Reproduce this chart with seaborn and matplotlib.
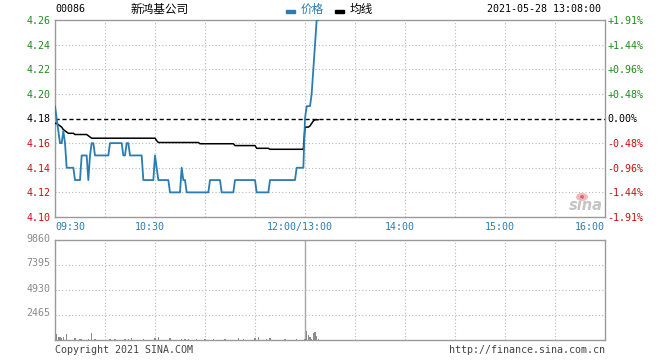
import matplotlib
matplotlib.use("Agg")
import matplotlib.pyplot as plt
import matplotlib.transforms as mtrans
from matplotlib.patches import Rectangle, Ellipse
import pandas as pd
import seaborn as sns

# ---------------- data ----------------
price = [
    4.19, 4.18, 4.17, 4.16, 4.16, 4.17, 4.16,
    4.14, 4.14, 4.14, 4.14, 4.14,
    4.13, 4.13, 4.13, 4.13,
    4.15, 4.15, 4.15, 4.15,
    4.13, 4.15, 4.16, 4.16,
    4.15, 4.15, 4.15, 4.15, 4.15, 4.15, 4.15, 4.15, 4.15,
    4.16, 4.16, 4.16, 4.16, 4.16, 4.16, 4.16, 4.16,
    4.15, 4.15, 4.16, 4.16,
    4.15, 4.15, 4.15, 4.15, 4.15, 4.15, 4.15, 4.15,
    4.13, 4.13, 4.13, 4.13, 4.13, 4.13, 4.13,
    4.15, 4.14,
    4.13, 4.13, 4.13, 4.13, 4.13, 4.13, 4.13,
    4.12, 4.12, 4.12, 4.12, 4.12, 4.12, 4.12,
    4.14, 4.13, 4.13,
    4.12, 4.12, 4.12, 4.12, 4.12, 4.12, 4.12, 4.12, 4.12, 4.12, 4.12, 4.12, 4.12, 4.12,
    4.13, 4.13, 4.13, 4.13, 4.13, 4.13, 4.13,
    4.12, 4.12, 4.12, 4.12, 4.12, 4.12, 4.12, 4.12,
    4.13, 4.13, 4.13, 4.13, 4.13, 4.13, 4.13, 4.13, 4.13, 4.13, 4.13, 4.13, 4.13,
    4.12, 4.12, 4.12, 4.12, 4.12, 4.12, 4.12, 4.12,
    4.13, 4.13, 4.13, 4.13, 4.13, 4.13, 4.13, 4.13, 4.13, 4.13, 4.13, 4.13, 4.13, 4.13, 4.13, 4.13,
    4.14, 4.14, 4.14, 4.14, 4.14,
    4.18, 4.19, 4.19, 4.19, 4.20, 4.22, 4.24, 4.26, 4.26,
]

avg_price = [
    4.176, 4.176, 4.175, 4.174, 4.173, 4.171, 4.170, 4.169,
    4.168, 4.168, 4.168, 4.168, 4.167, 4.167, 4.167, 4.167, 4.167, 4.167, 4.167, 4.167, 4.166,
    4.165,
    4.164, 4.164, 4.164, 4.164, 4.164, 4.164, 4.164, 4.164, 4.164, 4.164,
    4.164, 4.164, 4.164, 4.164, 4.164, 4.164, 4.164, 4.164, 4.164, 4.164,
    4.164, 4.164, 4.164, 4.164, 4.164, 4.164, 4.164, 4.164, 4.164, 4.164,
    4.164, 4.164, 4.164, 4.164, 4.164, 4.164, 4.164, 4.164, 4.164,
    4.162,
    4.1605, 4.1605, 4.1605, 4.1605, 4.1605, 4.1605, 4.1605, 4.1605, 4.1605, 4.1605,
    4.1605, 4.1605, 4.1605, 4.1605, 4.1605, 4.1605, 4.1605, 4.1605, 4.1605, 4.1605,
    4.1605, 4.1605, 4.1605, 4.1605, 4.1605,
    4.1595, 4.1595, 4.1595, 4.1595, 4.1595, 4.1595, 4.1595, 4.1595, 4.1595, 4.1595,
    4.1595, 4.1595, 4.1595, 4.1595, 4.1595, 4.1595, 4.1595, 4.1595, 4.1595, 4.1595,
    4.1595,
    4.158, 4.158, 4.158, 4.158, 4.158, 4.158, 4.158, 4.158, 4.158, 4.158, 4.158, 4.158, 4.158,
    4.1558, 4.1558, 4.1558, 4.1558, 4.1558, 4.1558, 4.1558, 4.1558,
    4.155, 4.155, 4.155, 4.155, 4.155, 4.155, 4.155, 4.155, 4.155, 4.155,
    4.155, 4.155, 4.155, 4.155, 4.155, 4.155, 4.155, 4.155, 4.155, 4.155, 4.155,
    4.173, 4.173, 4.173, 4.174, 4.176, 4.178, 4.179, 4.179, 4.179,
]

vol_minute = [1, 2, 3, 4, 5, 7, 12, 15, 16, 20, 22, 24, 33, 36, 42, 44, 46, 53, 60, 62,
              69, 76, 78, 80, 85, 90, 95, 102, 110, 113, 120, 122, 127, 129, 138, 145,
              150, 151, 152, 153, 154, 155, 156, 157, 158]
vol_value = [590, 330, 330, 160, 330, 590, 160, 100, 100, 100, 650, 100, 100, 100, 100, 100, 230, 100, 200, 330,
             160, 100, 100, 100, 60, 100, 100, 60, 160, 100, 160, 260, 100, 200, 100, 100,
             100, 890, 490, 330, 100, 720, 760, 400, 100]

prev_close = 4.18
price_ticks = [4.10, 4.12, 4.14, 4.16, 4.18, 4.20, 4.22, 4.24, 4.26]
price_labels = ["4.10", "4.12", "4.14", "4.16", "4.18", "4.20", "4.22", "4.24", "4.26"]
pct_labels = ["-1.91%", "-1.44%", "-0.96%", "-0.48%", "0.00%", "+0.48%", "+0.96%", "+1.44%", "+1.91%"]
vol_ticks = [2465, 4930, 7395, 9860]
vol_labels = ["2465", "4930", "7395", "9860"]
time_ticks = [0, 60, 150, 210, 270, 330]
time_labels = ["09:30", "10:30", "12:00/13:00", "14:00", "15:00", "16:00"]
grid_minutes = [0, 30, 60, 90, 120, 150, 180, 210, 240, 270, 300, 330]

df = pd.DataFrame({"minute": range(len(price)), "price": price, "avg": avg_price})
vdf = pd.DataFrame({"minute": vol_minute, "volume": vol_value})

# ---------------- style ----------------
sns.set_theme(style="white")
MONO = "DejaVu Sans Mono"
CJK = ["Noto Sans CJK SC", "DejaVu Sans"]
plt.rcParams["font.family"] = [MONO, "Noto Sans CJK SC"]

BLUE = "#2a7db0"
GREEN = "#1e8a1e"
RED = "#c81010"
GRID = "#b8b8b8"
SPINE = "#9a9a9a"
FS = 7.2

W, H = 660, 360
fig = plt.figure(figsize=(6.6, 3.6), dpi=100)
fig.patch.set_facecolor("white")


def fx(px):
    return px / W


def fy(py):
    return 1 - py / H


ax = fig.add_axes([fx(55), fy(217), fx(550), (217 - 20) / H])
axv = fig.add_axes([fx(55), fy(340), fx(550), (340 - 240) / H])

for a in (ax, axv):
    a.set_facecolor("white")
    for s in a.spines.values():
        s.set_color(SPINE)
        s.set_linewidth(1.0)
    a.set_xlim(0, 330)
    a.set_xticks(grid_minutes)
    a.set_xticklabels([])
    a.tick_params(length=0)
    a.grid(False)
    for m in grid_minutes[1:-1]:
        a.axvline(m, color=GRID, linestyle=(0, (1, 2)), linewidth=0.8, zorder=0)

# ---------------- price panel ----------------
ax.set_ylim(4.10, 4.26)
for t in price_ticks[1:-1]:
    if t != prev_close:
        ax.axhline(t, color=GRID, linestyle=(0, (1, 2)), linewidth=0.8, zorder=0)
ax.axhline(prev_close, color="black", linestyle=(0, (3, 2)), linewidth=1.0, zorder=1)

sns.lineplot(data=df, x="minute", y="avg", ax=ax, color="black", linewidth=1.1, zorder=3)
sns.lineplot(data=df, x="minute", y="price", ax=ax, color=BLUE, linewidth=1.3, zorder=4)
ax.set_xlabel("")
ax.set_ylabel("")

ax.set_yticks(price_ticks)
ax.set_yticklabels(price_labels, fontfamily=MONO, fontsize=FS)
ax.tick_params(axis="y", pad=3.5)
for t, lbl in zip(price_ticks, ax.get_yticklabels()):
    lbl.set_color(GREEN if t > prev_close else (RED if t < prev_close else "black"))

ax2 = ax.twinx()
ax2.set_ylim(4.10, 4.26)
ax2.set_yticks(price_ticks)
ax2.set_yticklabels(pct_labels, fontfamily=MONO, fontsize=FS)
ax2.tick_params(axis="y", length=0, pad=1.5)
for s in ax2.spines.values():
    s.set_visible(False)
for t, lbl in zip(price_ticks, ax2.get_yticklabels()):
    lbl.set_color(GREEN if t > prev_close else (RED if t < prev_close else "black"))

# time labels under the price panel
trans = mtrans.blended_transform_factory(ax.transData, ax.transAxes)
for i, (m, lab) in enumerate(zip(time_ticks, time_labels)):
    if i == 0:
        ha, dx = "left", 0
    elif i == len(time_ticks) - 1:
        ha, dx = "right", 0
    else:
        ha, dx = "center", -5
    off = mtrans.ScaledTranslation(dx / 100, -10 / 100, fig.dpi_scale_trans)
    ax.text(m, 0, lab, transform=trans + off, ha=ha, va="center",
            fontfamily=MONO, fontsize=FS, color=BLUE)

# ---------------- volume panel ----------------
axv.set_ylim(0, 9860)
for t in vol_ticks[:-1]:
    axv.axhline(t, color=GRID, linestyle=(0, (1, 2)), linewidth=0.8, zorder=0)
axv.axvline(150, color="#a8a8a8", linewidth=1.0, zorder=1)
axv.bar(vdf["minute"], vdf["volume"], width=0.7, color="#8c8c8c",
        edgecolor="none", linewidth=0, zorder=3)
axv.set_yticks(vol_ticks)
axv.set_yticklabels(vol_labels, fontfamily=MONO, fontsize=FS, color="#8a8a8a")
axv.tick_params(axis="y", pad=3.5)
up = mtrans.ScaledTranslation(0, 2.5 / 100, fig.dpi_scale_trans)
for lbl in axv.get_yticklabels():
    lbl.set_transform(lbl.get_transform() + up)

# ---------------- header / footer ----------------
fig.text(fx(55), fy(8.5), "00086", fontfamily=MONO, fontsize=FS, color="black", va="center", ha="left")
fig.text(fx(160), fy(9), "新鸿基公司", family=CJK, fontsize=8.4, color="black", va="center", ha="center")
fig.patches.append(Rectangle((fx(286), fy(12.5)), fx(9), 3 / H, transform=fig.transFigure,
                             color=BLUE, figure=fig))
fig.text(fx(301), fy(9), "价格", family=CJK, fontsize=8.4, color=BLUE, va="center", ha="left")
fig.patches.append(Rectangle((fx(335), fy(12.5)), fx(9), 3 / H, transform=fig.transFigure,
                             color="black", figure=fig))
fig.text(fx(350), fy(9), "均线", family=CJK, fontsize=8.4, color="black", va="center", ha="left")
fig.text(fx(601), fy(9.5), "2021-05-28 13:08:00", fontfamily=MONO, fontsize=FS, color="black",
         va="center", ha="right")

fig.text(fx(55), fy(350), "Copyright 2021 SINA.COM", fontfamily=MONO, fontsize=FS, color="#444444",
         va="center", ha="left")
fig.text(fx(605), fy(350), "http://finance.sina.com.cn", fontfamily=MONO, fontsize=FS, color="#444444",
         va="center", ha="right")

# sina watermark
fig.patches.append(Ellipse((fx(582), fy(197)), fx(12), 8 / H, transform=fig.transFigure,
                           facecolor="#f4b8b8", edgecolor="none", figure=fig))
fig.patches.append(Ellipse((fx(582), fy(197)), fx(4), 4 / H, transform=fig.transFigure,
                           facecolor="#d86a6a", edgecolor="none", figure=fig))
fig.text(fx(586), fy(206), "sina", fontfamily="DejaVu Sans", fontsize=10.5, fontstyle="italic",
         fontweight="bold", color="#c4c4c4", va="center", ha="center")

fig.savefig("out.png", dpi=100, facecolor="white")
